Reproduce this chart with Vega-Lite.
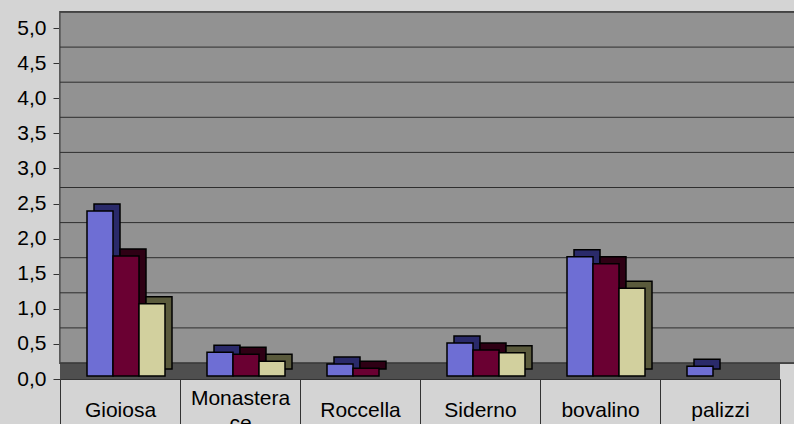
{
  "$schema": "https://vega.github.io/schema/vega-lite/v6.json",
  "width": 720,
  "height": 351,
  "autosize": "none",
  "padding": {"left": 60, "top": 28, "right": 14, "bottom": 45},
  "background": "#d4d4d4",
  "config": {
    "view": {"fill": "#9a9a9a", "stroke": null},
    "font": "Liberation Sans"
  },
  "datasets": {
    "bars": [
      {"city": "Gioiosa", "serie": "Serie 1", "value": 2.35},
      {"city": "Gioiosa", "serie": "Serie 2", "value": 1.71},
      {"city": "Gioiosa", "serie": "Serie 3", "value": 1.03},
      {"city": "Monasterace", "serie": "Serie 1", "value": 0.34},
      {"city": "Monasterace", "serie": "Serie 2", "value": 0.31},
      {"city": "Monasterace", "serie": "Serie 3", "value": 0.21},
      {"city": "Roccella", "serie": "Serie 1", "value": 0.17},
      {"city": "Roccella", "serie": "Serie 2", "value": 0.11},
      {"city": "Siderno", "serie": "Serie 1", "value": 0.47},
      {"city": "Siderno", "serie": "Serie 2", "value": 0.37},
      {"city": "Siderno", "serie": "Serie 3", "value": 0.33},
      {"city": "bovalino", "serie": "Serie 1", "value": 1.70},
      {"city": "bovalino", "serie": "Serie 2", "value": 1.60},
      {"city": "bovalino", "serie": "Serie 3", "value": 1.25},
      {"city": "palizzi", "serie": "Serie 1", "value": 0.14}
    ],
    "grid": [
      {"v": 0}, {"v": 0.5}, {"v": 1}, {"v": 1.5}, {"v": 2}, {"v": 2.5},
      {"v": 3}, {"v": 3.5}, {"v": 4}, {"v": 4.5}, {"v": 5}
    ]
  },
  "resolve": {"scale": {"color": "independent", "xOffset": "independent"}},
  "layer": [
    {
      "data": {"name": "grid"},
      "mark": {"type": "rect", "color": "#929292", "stroke": "#5a5a5a", "strokeWidth": 1.5, "xOffset": 24, "x2Offset": 24, "yOffset": -16, "y2Offset": -16},
      "encoding": {
        "y": {
          "datum": 0, "type": "quantitative", "scale": {"domain": [0, 5], "nice": false},
          "axis": {
            "title": null, "values": [0, 0.5, 1, 1.5, 2, 2.5, 3, 3.5, 4, 4.5, 5],
            "labelExpr": "replace(format(datum.value, '.1f'), '.', ',')", "labelOverlap": false,
            "labelFontSize": 21, "labelColor": "#000000", "labelPadding": 7, "tickSize": 7,
            "tickColor": "#333333", "domainColor": "#333333", "grid": false
          }
        },
        "y2": {"datum": 5}
      }
    },
    {
      "data": {"name": "grid"},
      "mark": {"type": "rect", "color": "#4f4f4f", "yOffset": 0, "y2Offset": -16},
      "encoding": {
        "y": {
          "datum": 0, "type": "quantitative",
          "axis": {
            "title": null, "values": [0, 0.5, 1, 1.5, 2, 2.5, 3, 3.5, 4, 4.5, 5],
            "labelExpr": "replace(format(datum.value, '.1f'), '.', ',')", "labelOverlap": false,
            "labelFontSize": 21, "labelColor": "#000000", "labelPadding": 7, "tickSize": 7,
            "tickColor": "#333333", "domainColor": "#333333", "grid": false
          }
        },
        "y2": {"datum": 0}
      }
    },
    {
      "data": {"name": "grid"},
      "mark": {"type": "rule", "color": "#2e2e2e", "strokeWidth": 1, "xOffset": 24, "x2Offset": 24, "yOffset": -16},
      "encoding": {
        "y": {
          "field": "v", "type": "quantitative",
          "axis": {
            "title": null, "values": [0, 0.5, 1, 1.5, 2, 2.5, 3, 3.5, 4, 4.5, 5],
            "labelExpr": "replace(format(datum.value, '.1f'), '.', ',')", "labelOverlap": false,
            "labelFontSize": 21, "labelColor": "#000000", "labelPadding": 7, "tickSize": 7,
            "tickColor": "#333333", "domainColor": "#333333", "grid": false
          }
        }
      }
    },
    {
      "data": {"name": "bars"},
      "mark": {"type": "bar", "yOffset": -10, "stroke": "#000000", "strokeWidth": 1.5},
      "encoding": {
        "x": {
          "field": "city",
          "type": "nominal",
          "sort": ["Gioiosa", "Monasterace", "Roccella", "Siderno", "bovalino", "palizzi"],
          "scale": {"paddingInner": 0, "paddingOuter": 0},
          "axis": {
            "title": null,
            "labelAngle": 0,
            "labelFontSize": 21,
            "labelColor": "#000000",
            "labelBaseline": "middle",
            "labelPadding": {"condition": {"test": "datum.value == 'Monasterace'", "value": -31}, "value": -19},
            "labelLineHeight": 25,
            "labelOverlap": false,
            "labelExpr": "datum.value == 'Monasterace' ? ['Monastera', 'ce'] : datum.value",
            "tickBand": "extent",
            "tickSize": 50,
            "tickColor": "#333333",
            "domainColor": "#333333",
            "grid": false
          }
        },
        "xOffset": {
          "field": "serie",
          "type": "nominal",
          "sort": ["Serie 1", "Serie 2", "Serie 3"],
          "scale": {"paddingInner": 0, "paddingOuter": 0, "range": [34, 112]}
        },
        "y": {
          "field": "value", "type": "quantitative",
          "axis": {
            "title": null, "values": [0, 0.5, 1, 1.5, 2, 2.5, 3, 3.5, 4, 4.5, 5],
            "labelExpr": "replace(format(datum.value, '.1f'), '.', ',')", "labelOverlap": false,
            "labelFontSize": 21, "labelColor": "#000000", "labelPadding": 7, "tickSize": 7,
            "tickColor": "#333333", "domainColor": "#333333", "grid": false
          }
        },
        "color": {
          "field": "serie",
          "type": "nominal",
          "scale": {"domain": ["Serie 1", "Serie 2", "Serie 3"], "range": ["#2a2a6a", "#2e0014", "#5a5a3c"]},
          "legend": null
        }
      }
    },
    {
      "data": {"name": "bars"},
      "mark": {"type": "bar", "yOffset": -3, "stroke": "#000000", "strokeWidth": 1.5},
      "encoding": {
        "x": {
          "field": "city",
          "type": "nominal",
          "sort": ["Gioiosa", "Monasterace", "Roccella", "Siderno", "bovalino", "palizzi"]
        },
        "xOffset": {
          "field": "serie",
          "type": "nominal",
          "sort": ["Serie 1", "Serie 2", "Serie 3"],
          "scale": {"paddingInner": 0, "paddingOuter": 0, "range": [27, 105]}
        },
        "y": {
          "field": "value", "type": "quantitative",
          "axis": {
            "title": null, "values": [0, 0.5, 1, 1.5, 2, 2.5, 3, 3.5, 4, 4.5, 5],
            "labelExpr": "replace(format(datum.value, '.1f'), '.', ',')", "labelOverlap": false,
            "labelFontSize": 21, "labelColor": "#000000", "labelPadding": 7, "tickSize": 7,
            "tickColor": "#333333", "domainColor": "#333333", "grid": false
          }
        },
        "color": {
          "field": "serie",
          "type": "nominal",
          "scale": {"domain": ["Serie 1", "Serie 2", "Serie 3"], "range": ["#6e6ed4", "#6a0032", "#d2d09e"]},
          "legend": null
        }
      }
    }
  ]
}
